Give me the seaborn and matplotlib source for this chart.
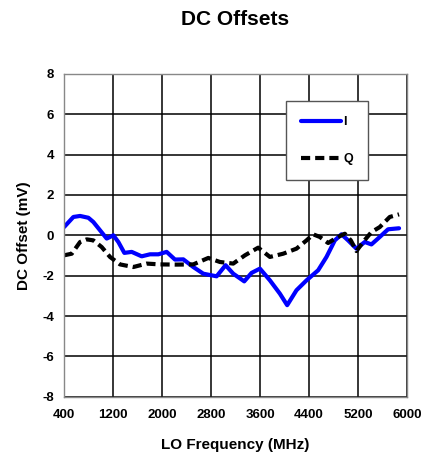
import pandas as pd
import seaborn as sns
import matplotlib.pyplot as plt

# values
i_freq = [400, 552, 661, 797, 878, 987, 1096, 1205, 1286, 1384, 1504, 1667, 1803, 1939,
          2075, 2211, 2347, 2510, 2673, 2891, 3037, 3162, 3342, 3462, 3598, 3761, 3924,
          4043, 4195, 4359, 4549, 4685, 4821, 4930, 5038, 5174, 5310, 5419, 5555, 5691, 5870]
i_offset = [0.41, 0.91, 0.96, 0.87, 0.66, 0.25, -0.16, 0.0, -0.33, -0.87, -0.82, -1.04, -0.94, -0.94,
            -0.82, -1.2, -1.19, -1.57, -1.9, -2.03, -1.48, -1.9, -2.28, -1.86, -1.65, -2.23, -2.89,
            -3.46, -2.72, -2.23, -1.73, -1.07, -0.25, 0.05, -0.25, -0.66, -0.33, -0.45, -0.08, 0.3, 0.35]

q_freq = [400, 525, 661, 770, 878, 1014, 1150, 1313, 1531, 1748, 1966, 2238, 2510, 2755,
          2945, 3162, 3353, 3570, 3761, 3978, 4195, 4359, 4468, 4576, 4712, 4848, 4984,
          5082, 5174, 5283, 5419, 5555, 5718, 5870]
q_offset = [-0.99, -0.91, -0.33, -0.2, -0.25, -0.58, -1.07, -1.44, -1.57, -1.4, -1.44, -1.45, -1.44, -1.12,
            -1.32, -1.4, -0.99, -0.61, -1.07, -0.91, -0.66, -0.25, 0.05, -0.08, -0.38, -0.12, 0.08,
            -0.25, -0.78, -0.33, 0.16, 0.41, 0.91, 1.04]

x_ticks = [400, 1200, 2000, 2800, 3600, 4400, 5200, 6000]
y_ticks = [8, 6, 4, 2, 0, -2, -4, -6, -8]

df = pd.concat([
    pd.DataFrame({'freq': i_freq, 'offset': i_offset, 'channel': 'I'}),
    pd.DataFrame({'freq': q_freq, 'offset': q_offset, 'channel': 'Q'}),
])

sns.set_style("white")
plt.rcParams['font.family'] = ['Liberation Sans', 'DejaVu Sans']
plt.rcParams['axes.unicode_minus'] = False
plt.rcParams['text.color'] = 'black'
plt.rcParams['axes.labelcolor'] = 'black'
plt.rcParams['xtick.color'] = 'black'
plt.rcParams['ytick.color'] = 'black'

fig = plt.figure(figsize=(4.33, 4.53), dpi=100)
ax = fig.add_axes([0.148, 0.124, 0.792, 0.713])

sns.lineplot(data=df, x='freq', y='offset', hue='channel', style='channel',
             palette={'I': '#0000ff', 'Q': 'black'},
             dashes={'I': '', 'Q': (2.2, 1.2)},
             linewidth=3, sort=False, ax=ax)

ax.set_xlim(400, 6000)
ax.set_ylim(-8, 8)
ax.set_xticks(x_ticks)
ax.set_yticks(y_ticks)
ax.set_xticklabels([str(t) for t in x_ticks], fontsize=9.5, fontweight='bold')
ax.set_yticklabels([str(t) for t in y_ticks], fontsize=9.5, fontweight='bold')
ax.tick_params(axis='x', length=0, pad=9)
ax.tick_params(axis='y', length=0, pad=7)
ax.grid(True, color='black', linewidth=1.1)
for s in ax.spines.values():
    s.set_color('#888888')
    s.set_linewidth(1)

ax.set_xlabel('LO Frequency (MHz)', fontsize=11, fontweight='bold', labelpad=12)
ax.set_ylabel('DC Offset (mV)', fontsize=11, fontweight='bold', labelpad=8)
fig.text(0.544, 0.958, 'DC Offsets', fontsize=15, fontweight='bold', ha='center', va='center')

leg = ax.legend(loc='upper left', bbox_to_anchor=(0.647, 0.916), fontsize=9,
                handlelength=3.2, handletextpad=0.2, labelspacing=2.0,
                borderpad=1.2, borderaxespad=0, fancybox=False, framealpha=1)
for t in leg.get_texts():
    t.set_fontweight('bold')
leg.get_frame().set_edgecolor('#555555')
leg.get_frame().set_linewidth(1)

plt.savefig('out.png', dpi=100)
